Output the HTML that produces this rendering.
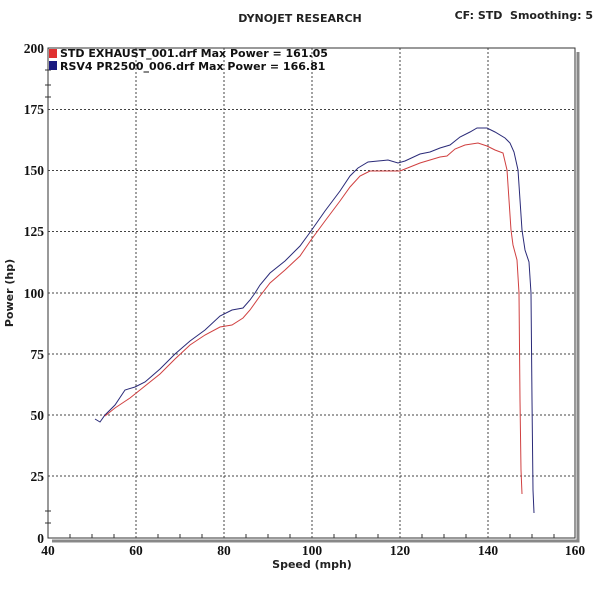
<!DOCTYPE html>
<html><head><meta charset="utf-8"><style>
body{margin:0;background:#fff;}
svg{display:block;font-family:"DejaVu Sans","Liberation Sans",sans-serif;}
</style></head><body>
<svg width="600" height="600" viewBox="0 0 600 600">
<rect width="600" height="600" fill="#fff"/>
<text x="300" y="22" font-size="11" font-weight="bold" text-anchor="middle" fill="#222">DYNOJET RESEARCH</text>
<text x="593" y="19" font-size="11" font-weight="bold" text-anchor="end" fill="#222">CF: STD&#160; Smoothing: 5</text>
<path d="M52 541 L578 541 L578 52" fill="none" stroke="#888" stroke-width="3"/>
<rect x="48" y="48" width="527" height="490" fill="#fff" stroke="#333" stroke-width="1"/>
<g stroke="#444" stroke-width="1" stroke-dasharray="2,2" fill="none">
<line x1="136" y1="48" x2="136" y2="538"/><line x1="224" y1="48" x2="224" y2="538"/>
<line x1="312" y1="48" x2="312" y2="538"/><line x1="400" y1="48" x2="400" y2="538"/>
<line x1="488" y1="48" x2="488" y2="538"/>
<line x1="48" y1="109.5" x2="575" y2="109.5"/><line x1="48" y1="170.5" x2="575" y2="170.5"/>
<line x1="48" y1="231.5" x2="575" y2="231.5"/><line x1="48" y1="293" x2="575" y2="293"/>
<line x1="48" y1="354" x2="575" y2="354"/><line x1="48" y1="415" x2="575" y2="415"/>
<line x1="48" y1="476" x2="575" y2="476"/>
</g>
<g stroke="#333" stroke-width="1">
<line x1="70" y1="538" x2="70" y2="534"/><line x1="92" y1="538" x2="92" y2="534"/><line x1="114" y1="538" x2="114" y2="534"/>
<line x1="158" y1="538" x2="158" y2="534"/><line x1="180" y1="538" x2="180" y2="534"/><line x1="202" y1="538" x2="202" y2="534"/>
<line x1="246" y1="538" x2="246" y2="534"/><line x1="268" y1="538" x2="268" y2="534"/><line x1="290" y1="538" x2="290" y2="534"/>
<line x1="334" y1="538" x2="334" y2="534"/><line x1="356" y1="538" x2="356" y2="534"/><line x1="378" y1="538" x2="378" y2="534"/>
<line x1="422" y1="538" x2="422" y2="534"/><line x1="444" y1="538" x2="444" y2="534"/><line x1="466" y1="538" x2="466" y2="534"/>
<line x1="510" y1="538" x2="510" y2="534"/><line x1="532" y1="538" x2="532" y2="534"/><line x1="554" y1="538" x2="554" y2="534"/>
<line x1="45" y1="70" x2="51" y2="70"/><line x1="45" y1="85" x2="51" y2="85"/><line x1="45" y1="97" x2="51" y2="97"/>
<line x1="45" y1="511" x2="51" y2="511"/><line x1="45" y1="523" x2="51" y2="523"/>
</g>
<g font-size="13.5" font-weight="bold" fill="#111" font-family="Liberation Serif,serif" text-anchor="middle">
<text x="48" y="555">40</text><text x="136" y="555">60</text><text x="224" y="555">80</text><text x="312" y="555">100</text><text x="400" y="555">120</text><text x="488" y="555">140</text><text x="575" y="555">160</text>
</g>
<g font-size="13.5" font-weight="bold" fill="#111" font-family="Liberation Serif,serif" text-anchor="end">
<text x="44" y="53">200</text><text x="44" y="114">175</text><text x="44" y="175">150</text><text x="44" y="236">125</text><text x="44" y="298">100</text><text x="44" y="359">75</text><text x="44" y="420">50</text><text x="44" y="481">25</text><text x="44" y="543">0</text>
</g>
<text x="312" y="568" font-size="11" font-weight="bold" text-anchor="middle" fill="#222">Speed (mph)</text>
<text transform="translate(13,293) rotate(-90)" font-size="11" font-weight="bold" text-anchor="middle" fill="#222">Power (hp)</text>
<rect x="49" y="49" width="8" height="9" fill="#e03030"/>
<rect x="49" y="61" width="8" height="9" fill="#1a1a80"/>
<text x="60" y="57" font-size="11" font-weight="bold" fill="#111">STD EXHAUST_001.drf Max Power = 161.05</text>
<text x="60" y="70" font-size="11" font-weight="bold" fill="#111">RSV4 PR2500_006.drf Max Power = 166.81</text>
<polyline fill="none" stroke="#2a2a78" stroke-width="1" points="95,419 100,422 105,415 115,405 125,390 135,387 145,382 160,369 175,354 190,341 205,330 220,316 232,310 243,308 250,300 255,293 260,285 270,273 285,261 300,246 311,231 325,211 340,191 350,176 358,168 368,162 378,161 388,160 398,163 405,161 420,154 430,152 440,148 450,145 460,137 470,132 477,128 487,128 495,132 505,138 510,143 514,152 518,170 522,230 525,250 529,262 531,293 532,400 533,490 534,513"/>
<polyline fill="none" stroke="#d04040" stroke-width="1" points="105,416 115,408 130,398 145,386 160,374 175,359 190,345 205,335 220,327 232,325 243,318 250,310 260,296 270,283 285,270 300,256 311,240 325,221 340,201 350,187 360,176 370,171 385,171 400,171 410,167 420,163 430,160 440,157 447,156 455,149 465,145 478,143 487,146 495,150 503,153 507,170 509,200 511,230 513,245 517,260 519,293 520,400 521,470 522,494"/>
</svg>
</body></html>
